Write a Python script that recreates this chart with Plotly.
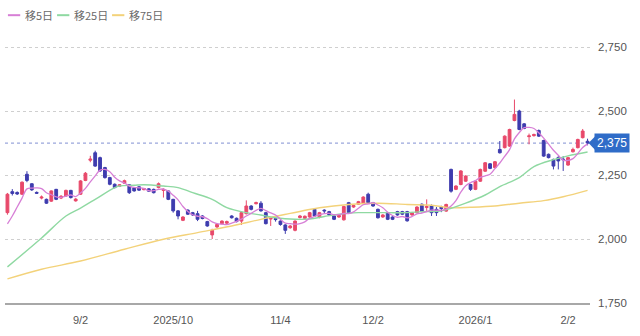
import pandas as pd
import plotly.graph_objects as go

# --- data -----------------------------------------------------------------
holidays = ["2025-09-15", "2025-09-23", "2025-10-13", "2025-11-03", "2025-11-24",
            "2025-12-31", "2026-01-01", "2026-01-02", "2026-01-12"]
dates = [d.strftime("%Y-%m-%d") for d in
         pd.bdate_range("2025-08-12", "2026-02-06", freq="C", holidays=holidays)]

opens = [2103, 2185, 2182, 2175, 2253, 2216, 2182, 2160, 2155, 2148,
         2194, 2160, 2168, 2190, 2149, 2175, 2229, 2308, 2337, 2318,
         2279, 2240, 2214, 2206, 2218, 2212, 2200, 2204, 2193, 2196,
         2194, 2201, 2190, 2188, 2155, 2110, 2073, 2113, 2103, 2099,
         2090, 2068, 2016, 2047, 2060, 2062, 2090, 2081, 2070, 2099,
         2129, 2138, 2140, 2103, 2078, 2080, 2070, 2055, 2044, 2034,
         2084, 2081, 2086, 2116, 2084, 2113, 2107, 2090, 2086, 2075,
         2142, 2125, 2136, 2138, 2175, 2142, 2116, 2086, 2103, 2086,
         2107, 2107, 2107, 2094, 2103, 2136, 2123, 2129, 2116, 2124,
         2109, 2272, 2194, 2213, 2226, 2213, 2194, 2226, 2265, 2294,
         2279, 2350, 2357, 2363, 2463, 2500, 2450, 2400, 2404, 2424,
         2385, 2331, 2311, 2318, 2312, 2289, 2341, 2357, 2396, 2382]
highs = [2180, 2195, 2186, 2225, 2265, 2218, 2186, 2170, 2158, 2190,
         2196, 2172, 2193, 2192, 2160, 2230, 2262, 2325, 2345, 2322,
         2282, 2243, 2217, 2215, 2232, 2214, 2203, 2207, 2200, 2199,
         2197, 2221, 2198, 2190, 2157, 2113, 2089, 2116, 2106, 2110,
         2093, 2071, 2040, 2060, 2073, 2072, 2093, 2084, 2106, 2151,
         2132, 2146, 2148, 2106, 2085, 2090, 2073, 2058, 2055, 2073,
         2094, 2092, 2106, 2119, 2106, 2116, 2110, 2093, 2095, 2130,
         2145, 2134, 2149, 2167, 2181, 2145, 2119, 2097, 2106, 2089,
         2110, 2110, 2110, 2106, 2128, 2139, 2155, 2135, 2125, 2130,
         2138, 2275, 2210, 2269, 2249, 2216, 2229, 2275, 2301, 2297,
         2305, 2383, 2405, 2431, 2545, 2505, 2453, 2412, 2412, 2428,
         2388, 2334, 2314, 2324, 2324, 2321, 2357, 2392, 2430, 2392]
lows = [2095, 2170, 2172, 2172, 2222, 2188, 2176, 2155, 2137, 2145,
        2152, 2156, 2165, 2158, 2146, 2172, 2226, 2300, 2282, 2262,
        2236, 2210, 2198, 2203, 2215, 2176, 2185, 2188, 2190, 2184,
        2178, 2198, 2162, 2152, 2103, 2077, 2070, 2094, 2090, 2070,
        2077, 2048, 2000, 2044, 2057, 2058, 2080, 2065, 2055, 2096,
        2112, 2135, 2107, 2057, 2051, 2068, 2052, 2020, 2040, 2030,
        2080, 2078, 2083, 2087, 2081, 2100, 2091, 2074, 2083, 2072,
        2100, 2122, 2133, 2135, 2139, 2126, 2080, 2083, 2074, 2074,
        2091, 2094, 2068, 2091, 2100, 2104, 2110, 2090, 2090, 2105,
        2106, 2181, 2191, 2210, 2223, 2188, 2191, 2223, 2262, 2273,
        2276, 2334, 2354, 2360, 2460, 2425, 2429, 2370, 2400, 2399,
        2321, 2315, 2272, 2272, 2266, 2286, 2338, 2354, 2393, 2366]
closes = [2175, 2178, 2176, 2222, 2229, 2192, 2179, 2164, 2140, 2188,
          2155, 2167, 2190, 2162, 2156, 2227, 2257, 2312, 2285, 2266,
          2240, 2214, 2201, 2212, 2228, 2181, 2188, 2191, 2197, 2187,
          2181, 2216, 2194, 2155, 2110, 2090, 2086, 2097, 2094, 2077,
          2080, 2051, 2034, 2057, 2070, 2068, 2083, 2068, 2103, 2129,
          2116, 2142, 2110, 2060, 2081, 2076, 2057, 2034, 2051, 2070,
          2090, 2089, 2103, 2090, 2103, 2110, 2094, 2077, 2092, 2127,
          2103, 2131, 2146, 2164, 2142, 2129, 2083, 2094, 2077, 2077,
          2094, 2097, 2071, 2103, 2125, 2107, 2127, 2103, 2103, 2119,
          2135, 2187, 2207, 2266, 2246, 2194, 2226, 2272, 2298, 2276,
          2302, 2337, 2402, 2428, 2487, 2428, 2432, 2403, 2408, 2402,
          2324, 2318, 2285, 2305, 2310, 2318, 2350, 2389, 2422, 2375]

ma5 = [2059, 2090, 2125, 2160, 2196, 2199, 2200, 2197, 2181, 2173,
       2165, 2163, 2168, 2172, 2166, 2180, 2198, 2223, 2247, 2269,
       2272, 2263, 2241, 2227, 2219, 2207, 2202, 2200, 2197, 2189,
       2189, 2194, 2195, 2187, 2171, 2153, 2127, 2108, 2095, 2089,
       2087, 2080, 2067, 2060, 2058, 2056, 2062, 2069, 2078, 2090,
       2100, 2112, 2120, 2111, 2102, 2094, 2077, 2062, 2060, 2058,
       2060, 2067, 2081, 2088, 2095, 2099, 2100, 2095, 2095, 2100,
       2099, 2106, 2120, 2134, 2137, 2142, 2133, 2122, 2105, 2092,
       2085, 2088, 2083, 2088, 2098, 2101, 2107, 2113, 2113, 2112,
       2117, 2129, 2150, 2183, 2208, 2220, 2228, 2241, 2247, 2253,
       2275, 2297, 2323, 2349, 2391, 2416, 2435, 2436, 2432, 2415,
       2394, 2371, 2347, 2327, 2308, 2307, 2314, 2334, 2358, 2371]

ma25_idx = [0, 7, 12, 15, 18, 22, 23, 26, 28, 32, 35, 38, 42, 45, 49, 52, 55, 59,
            62, 65, 68, 72, 75, 78, 82, 85, 89, 91, 94, 98, 101, 105, 108, 112, 115, 119]
ma25_val = [1891, 2004, 2090, 2121, 2155, 2201, 2207, 2210, 2212, 2207, 2201, 2181,
            2155, 2123, 2103, 2094, 2083, 2077, 2078, 2088, 2097, 2103, 2103, 2103,
            2103, 2107, 2110, 2120, 2140, 2172, 2205, 2240, 2283, 2310, 2325, 2340]

ma75_idx = [0, 7, 15, 24, 32, 39, 46, 52, 58, 64, 70, 76, 82, 87, 91, 95, 100,
            105, 110, 114, 119]
ma75_val = [1844, 1882, 1914, 1960, 1999, 2025, 2051, 2077, 2100, 2122, 2135,
            2140, 2135, 2132, 2122, 2124, 2129, 2140, 2150, 2165, 2190]

last_price = 2375
legend_names = ["移5日", "移25日", "移75日"]
tick_dates = ["2025-09-02", "2025-10-01", "2025-11-04", "2025-12-02", "2026-01-05", "2026-02-02"]
tick_text = ["9/2", "2025/10", "11/4", "12/2", "2026/1", "2/2"]
y_ticks = [1750, 2000, 2250, 2500, 2750]

# --- styles ----------------------------------------------------------------
UP = "#e8496b"
DOWN = "#3e3cae"
C5 = "#d77fd6"
C25 = "#8fd9a2"
C75 = "#f3d27a"
NUM_FONT = "Liberation Sans, Arial, sans-serif"
JP_FONT = "Noto Sans CJK JP, sans-serif"

fig = go.Figure()
fig.add_trace(go.Scatter(x=[dates[i] for i in ma75_idx], y=ma75_val, mode="lines",
                         line=dict(color=C75, width=1.4, shape="spline"),
                         name=legend_names[2], hoverinfo="skip"))
fig.add_trace(go.Scatter(x=[dates[i] for i in ma25_idx], y=ma25_val, mode="lines",
                         line=dict(color=C25, width=1.4, shape="spline"),
                         name=legend_names[1], hoverinfo="skip"))
fig.add_trace(go.Scatter(x=dates, y=ma5, mode="lines",
                         line=dict(color=C5, width=1.3, shape="spline"),
                         name=legend_names[0], hoverinfo="skip"))
fig.add_trace(go.Candlestick(x=dates, open=opens, high=highs, low=lows, close=closes,
                             increasing=dict(line=dict(color=UP, width=1), fillcolor=UP),
                             decreasing=dict(line=dict(color=DOWN, width=1), fillcolor=DOWN),
                             whiskerwidth=0, showlegend=False))

# current-price line
fig.add_shape(type="line", xref="paper", yref="y", x0=0, x1=1, y0=last_price, y1=last_price,
              line=dict(color="#9aa6dc", width=1.2, dash="dot"), layer="below")
# price flag
fig.add_shape(type="path", xref="paper", yref="y",
              path=f"M 0.9975 {last_price} L 1.0085 {last_price + 26} L 1.0085 {last_price - 26} Z",
              fillcolor="#2f6cc8", line=dict(width=0))
fig.add_annotation(xref="paper", yref="y", x=1.0075, y=last_price, xanchor="left", yanchor="middle",
                   text=f"{last_price:,}", showarrow=False, bgcolor="#2f6cc8",
                   font=dict(family=NUM_FONT, size=12, color="white"), borderpad=2)

# manual legend
leg_colors = [C5, C25, C75]
leg_x = [0.005, 0.089, 0.183]
for name, col, lx in zip(legend_names, leg_colors, leg_x):
    fig.add_shape(type="line", xref="paper", yref="paper", x0=lx, x1=lx + 0.021,
                  y0=1.066, y1=1.066, line=dict(color=col, width=2))
    fig.add_annotation(xref="paper", yref="paper", x=lx + 0.026, y=1.066, xanchor="left",
                       yanchor="middle", text=name, showarrow=False,
                       font=dict(family=JP_FONT, size=11, color="#6a6a6a"))

fig.update_layout(
    width=640, height=336,
    margin=dict(l=5, r=50, t=33, b=33),
    paper_bgcolor="white", plot_bgcolor="white",
    showlegend=False, boxgap=0.18,
    font=dict(family=NUM_FONT, size=11, color="#555555"),
    xaxis=dict(type="category", categoryorder="array", categoryarray=dates,
               range=[-0.5, len(dates) - 0.5], rangeslider=dict(visible=False),
               tickmode="array", tickvals=tick_dates, ticktext=tick_text,
               showgrid=False, showline=True, linecolor="#a8a8a8", linewidth=1.5,
               ticks="", tickfont=dict(family=NUM_FONT, size=11, color="#555555"),
               ticklabelstandoff=6, fixedrange=True),
    yaxis=dict(side="right", range=[1750, 2805], tickmode="array", tickvals=y_ticks,
               tickformat=",", showgrid=True, gridcolor="#cfcfcf", griddash="dot", gridwidth=1,
               zeroline=False, ticks="", ticklabelstandoff=7,
               tickfont=dict(family=NUM_FONT, size=11.5, color="#555555")),
)

fig.write_html("out.html")
